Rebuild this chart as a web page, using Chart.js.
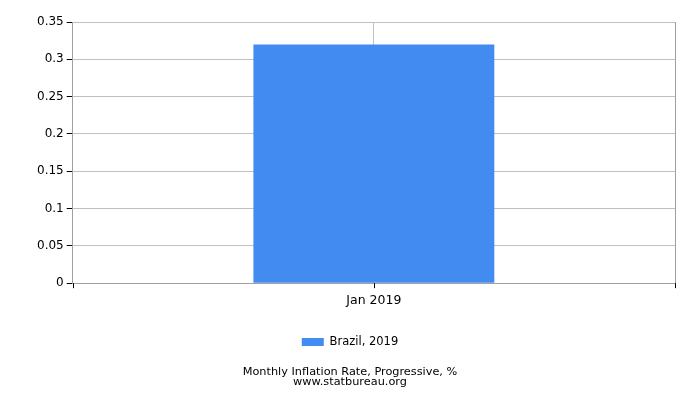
<!DOCTYPE html>
<html>
<head>
<meta charset="utf-8">
<script src="https://cdn.jsdelivr.net/npm/chart.js@4.4.1/dist/chart.umd.min.js"></script>
<style>
  html, body { margin: 0; padding: 0; background: #fff; }
  #wrap { width: 700px; height: 400px; }
</style>
</head>
<body>
<div id="wrap"><canvas id="inflationChart"></canvas></div>
<script>
// chart data
const categories = ['Jan 2019'];
const brazilValues = [0.32];
const seriesLabel = 'Brazil, 2019';
const yTicks = [0, 0.05, 0.1, 0.15, 0.2, 0.25, 0.3, 0.35];

// frame on the right + small black ticks at the x edges
const framePlugin = {
    id: 'frame',
    afterDraw(chart) {
        const ctx = chart.ctx;
        const a = chart.chartArea;
        const x = chart.scales.x;
        ctx.save();
        ctx.strokeStyle = '#a0a0a0';
        ctx.lineWidth = 1;
        ctx.beginPath();
        ctx.moveTo(a.right + 0.5, a.top);
        ctx.lineTo(a.right + 0.5, a.bottom);
        ctx.stroke();
        ctx.strokeStyle = '#000';
        ctx.beginPath();
        const edges = [x.getPixelForValue(-0.5), x.getPixelForValue(0), x.getPixelForValue(0.5)];
        edges.forEach(px => {
            const p = Math.round(px) + 0.5;
            ctx.moveTo(p, a.bottom);
            ctx.lineTo(p, a.bottom + 5);
        });
        ctx.stroke();
        ctx.restore();
    }
};

const ctx = document.getElementById('inflationChart').getContext('2d');
new Chart(ctx, {
    type: 'bar',
    data: {
        labels: categories,
        datasets: [{
            label: seriesLabel,
            data: brazilValues,
            backgroundColor: '#428bf0',
            borderWidth: 0,
            barPercentage: 0.4,
            categoryPercentage: 1.0
        }]
    },
    options: {
        responsive: true,
        maintainAspectRatio: false,
        animation: false,
        layout: { padding: { top: 22, right: 25, left: 25, bottom: 8 } },
        scales: {
            x: {
                grid: { offset: false, color: '#c0c0c0', drawTicks: false },
                border: { color: '#a0a0a0' },
                ticks: { color: '#000', padding: 10, font: { family: 'DejaVu Sans', size: 12.5 } },
                afterFit: axis => { axis.height += 8; }
            },
            y: {
                min: 0,
                max: 0.35,
                afterBuildTicks: axis => { axis.ticks = yTicks.map(v => ({ value: v })); },
                afterFit: axis => { axis.width += 9; },
                grid: { color: '#c0c0c0', tickColor: '#000', tickLength: 6 },
                border: { color: '#a0a0a0' },
                ticks: {
                    color: '#000',
                    padding: 3,
                    font: { family: 'DejaVu Sans', size: 12 },
                    callback: v => String(Number(v.toFixed(2)))
                }
            }
        },
        plugins: {
            legend: {
                position: 'bottom',
                labels: {
                    boxWidth: 22,
                    boxHeight: 8,
                    color: '#000',
                    padding: 10,
                    font: { family: 'DejaVu Sans', size: 11.5 }
                }
            },
            title: {
                display: true,
                position: 'bottom',
                text: ['Monthly Inflation Rate, Progressive, %', 'www.statbureau.org'],
                color: '#000',
                font: { family: 'DejaVu Sans', size: 11.3, weight: 'normal', lineHeight: 0.9 },
                padding: { top: 9, bottom: 5 }
            },
            tooltip: { enabled: false }
        }
    },
    plugins: [framePlugin]
});
</script>
</body>
</html>
